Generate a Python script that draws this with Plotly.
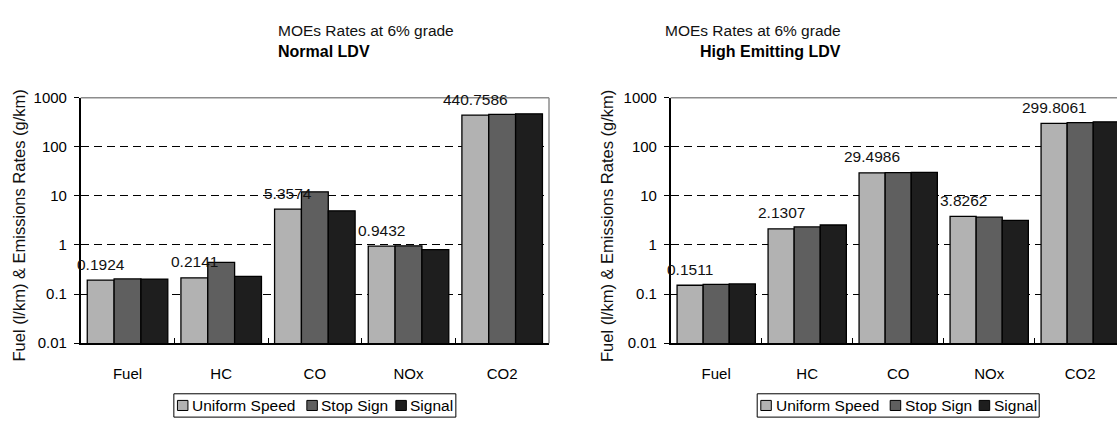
import math
import plotly.graph_objects as go

# Pollutant categories and driving scenarios
pollutants = ["Fuel", "HC", "CO", "NOx", "CO2"]
scenarios = ["Uniform Speed", "Stop Sign", "Signal"]

# Normal LDV rates (fuel in l/km, emissions in g/km)
normal_uniform = [0.1924, 0.2141, 5.3574, 0.9432, 440.7586]
normal_stop = [0.203, 0.44, 12.1, 0.96, 455.0]
normal_signal = [0.202, 0.23, 4.95, 0.80, 468.0]

# High emitting LDV rates
high_uniform = [0.1511, 2.1307, 29.4986, 3.8262, 299.8061]
high_stop = [0.157, 2.33, 29.8, 3.68, 309.0]
high_signal = [0.161, 2.55, 30.1, 3.17, 322.0]

y_tick_values = [0.01, 0.1, 1, 10, 100, 1000]
y_tick_labels = ["0.01", "0.1", "1", "10", "100", "1000"]

W, H = 1117, 428
FONT = "Liberation Sans, Arial, sans-serif"
colors = ["#b2b2b2", "#5f5f5f", "#1e1e1e"]
BARGAP = 0.14


def px_x(p):
    return p / W


def px_y(p):
    return (H - p) / H


fig = go.Figure()

panels = [
    ("x", "y", [normal_uniform, normal_stop, normal_signal]),
    ("x2", "y2", [high_uniform, high_stop, high_signal]),
]
for xa, ya, series in panels:
    for name, vals, col in zip(scenarios, series, colors):
        fig.add_trace(go.Bar(
            x=pollutants, y=vals, name=name, xaxis=xa, yaxis=ya,
            showlegend=False,
            marker=dict(color=col, line=dict(color="black", width=1.3)),
            hoverinfo="x+y+name",
        ))

y_domain = [px_y(348), px_y(92.3)]
axis_common = dict(
    showline=True, linecolor="black", linewidth=1.5,
    tickfont=dict(family=FONT, size=15, color="black"),
)
yaxis_common = dict(
    axis_common, type="log", range=[-2, 3], domain=y_domain,
    tickvals=y_tick_values, ticktext=y_tick_labels,
    ticks="outside", ticklen=5, tickcolor="black",
    showgrid=True, gridcolor="black", gridwidth=1, griddash="8px,5px",
    ticklabelstandoff=4, zeroline=False,
)
xaxis_common = dict(
    axis_common, type="category", tickson="boundaries",
    ticks="inside", ticklen=5, tickcolor="black",
    showgrid=False, ticklabelstandoff=16,
)

left_dom = [px_x(80.7), px_x(549)]
right_dom = [px_x(670.7), 1.0]
right_end = 4.5 - (1125.7 - W) / ((1125.7 - 670.7) / 5)

fig.update_layout(
    width=W, height=H, autosize=False,
    margin=dict(l=0, r=0, t=0, b=0),
    paper_bgcolor="white", plot_bgcolor="white",
    barmode="group", bargap=BARGAP, bargroupgap=0,
    font=dict(family=FONT, color="black"),
    showlegend=False,
    xaxis=dict(xaxis_common, domain=left_dom, anchor="y", range=[-0.5, 4.5]),
    yaxis=dict(yaxis_common, anchor="x"),
    xaxis2=dict(xaxis_common, domain=right_dom, anchor="y2", range=[-0.5, right_end]),
    yaxis2=dict(yaxis_common, anchor="x2"),
)

# Gray frame on the top and right sides of each plot area
for xr, yr, right in [("x domain", "y domain", True), ("x2 domain", "y2 domain", False)]:
    fig.add_shape(type="line", xref=xr, yref=yr, x0=0, x1=1, y0=1, y1=1,
                  line=dict(color="#8c8c8c", width=1.5))
    if right:
        fig.add_shape(type="line", xref=xr, yref=yr, x0=1, x1=1, y0=0, y1=1,
                      line=dict(color="#8c8c8c", width=1.5))

annotations = []

# Value labels above the Uniform Speed bars
first_offset = (1 - BARGAP) / 3
for xa, ya, vals in [("x", "y", normal_uniform), ("x2", "y2", high_uniform)]:
    for i, v in enumerate(vals):
        annotations.append(dict(
            x=i - first_offset, y=math.log10(v), xref=xa, yref=ya,
            text=f"{v:.4f}", showarrow=False, yanchor="middle", yshift=16,
            font=dict(family=FONT, size=15.5, color="#111"),
        ))

# Chart titles
for cx, sub in [(276, "Normal LDV"), (843, "High Emitting LDV")]:
    annotations.append(dict(
        x=px_x(cx), y=px_y(22), xref="paper", yref="paper", showarrow=False,
        text="MOEs Rates at 6% grade", yanchor="middle",
        font=dict(family=FONT, size=15.5, color="#111"),
    ))
    annotations.append(dict(
        x=px_x(cx), y=px_y(44.6), xref="paper", yref="paper", showarrow=False,
        text=f"<b>{sub}</b>", yanchor="middle",
        font=dict(family=FONT, size=16, color="black"),
    ))

# Y-axis titles
for cx in [19.5, 607]:
    annotations.append(dict(
        x=px_x(cx), y=px_y(226), xref="paper", yref="paper", showarrow=False,
        text="Fuel (l/km) & Emissions Rates (g/km)", textangle=-90,
        xanchor="center", yanchor="middle",
        font=dict(family=FONT, size=16.5, color="#111"),
    ))

# Boxed legend below each chart: swatch + label per scenario
LEG_W, LEG_TOP, LEG_BOTTOM = 282, 400.7, 425
swatch_left = [3.6, 133, 222]
label_left = [16.5, 145.5, 234.5]
SW = 10.5
leg_mid = (LEG_TOP + LEG_BOTTOM) / 2
for centre in [(80.7 + 549) / 2, (670.7 + 1125.7) / 2]:
    left = centre - LEG_W / 2
    fig.add_shape(type="rect", xref="paper", yref="paper",
                  x0=px_x(left), x1=px_x(left + LEG_W),
                  y0=px_y(LEG_BOTTOM), y1=px_y(LEG_TOP),
                  line=dict(color="black", width=1), fillcolor="white", layer="above")
    for name, col, sx, tx in zip(scenarios, colors, swatch_left, label_left):
        fig.add_shape(type="rect", xref="paper", yref="paper",
                      x0=px_x(left + sx), x1=px_x(left + sx + SW),
                      y0=px_y(leg_mid + SW / 2), y1=px_y(leg_mid - SW / 2),
                      line=dict(color="black", width=1), fillcolor=col, layer="above")
        annotations.append(dict(
            x=px_x(left + tx), y=px_y(leg_mid), xref="paper", yref="paper",
            text=name, showarrow=False, xanchor="left", yanchor="middle",
            font=dict(family=FONT, size=15.5, color="black"),
        ))

fig.update_layout(annotations=annotations)

fig.write_html("out.html")
